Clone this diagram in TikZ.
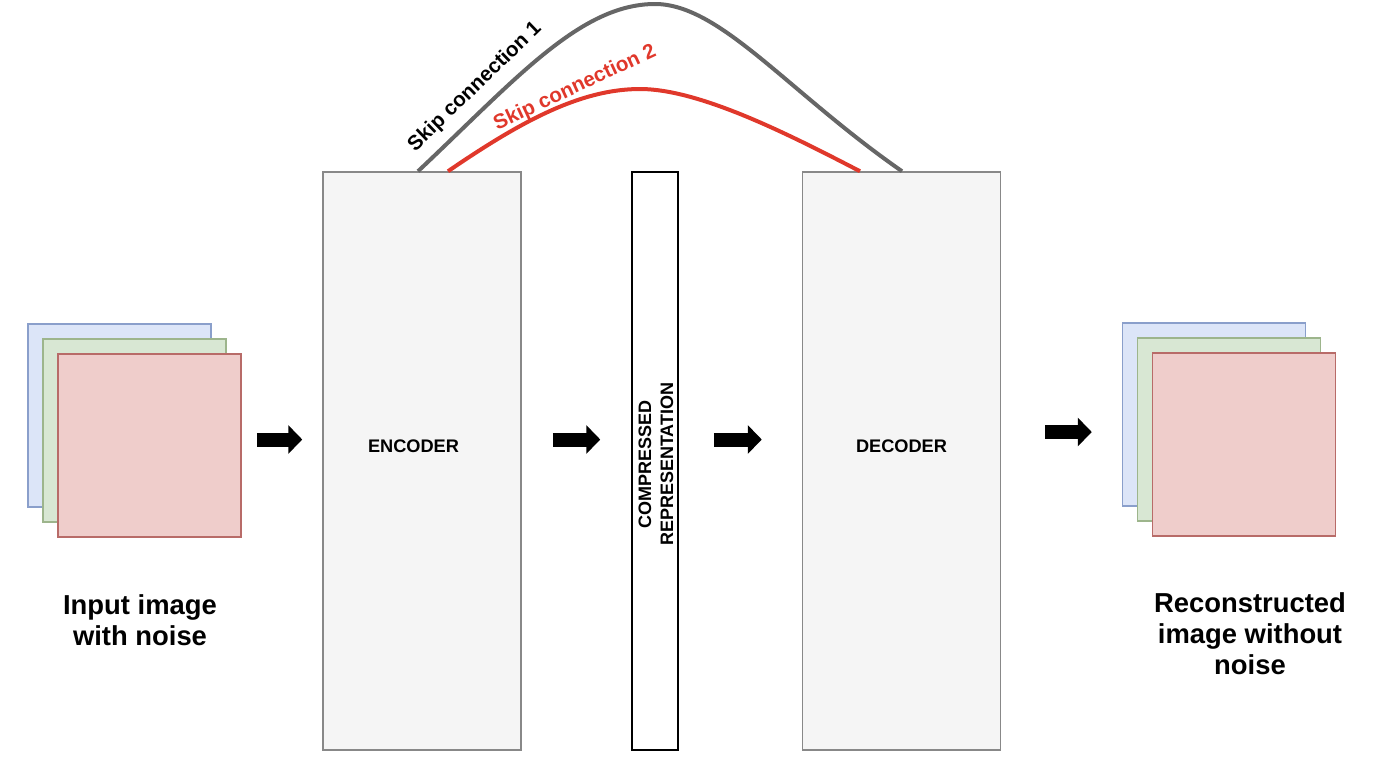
\documentclass[tikz,border=0pt]{standalone}
\usepackage{fontspec}
\setmainfont{Liberation Sans}
\usetikzlibrary{arrows.meta}

\definecolor{imgblue}{HTML}{DCE5F8}
\definecolor{lineblue}{HTML}{8A9FCB}
\definecolor{imggreen}{HTML}{D8E7D3}
\definecolor{linegreen}{HTML}{9DB58C}
\definecolor{imgred}{HTML}{EFCDCB}
\definecolor{linered}{HTML}{B86B68}
\definecolor{boxfill}{HTML}{F5F5F5}
\definecolor{boxline}{HTML}{888888}
\definecolor{skipgrey}{HTML}{666666}
\definecolor{skipred}{HTML}{E0382B}

\tikzset{
  img/.style={draw, line width=0.75pt, minimum size=91.5pt, inner sep=0pt},
  block/.style={draw=boxline, fill=boxfill, line width=0.75pt, minimum width=99pt, minimum height=289pt, inner sep=0pt},
  blocklabel/.style={font=\fontsize{9.1}{11}\selectfont\bfseries, align=center},
  blockarrow/.style={line width=7pt, -{Triangle[width=14pt,length=7pt]}},
  skip/.style={line width=2pt},
  skiplabel/.style={font=\fontsize{10.3}{12}\selectfont\bfseries, inner sep=1pt},
  caption/.style={align=center, font=\fontsize{13.7}{15.5}\selectfont\bfseries}
}

\begin{document}
\begin{tikzpicture}[x=0.5pt, y=-0.5pt]
  \useasboundingbox (0,0) rectangle (1400,762);
  % stacked images
  \foreach \c/\d in {blue/0, green/15, red/30} {
    \node[img, fill=img\c, draw=line\c] (in\c) at (119.5+\d, 415.5+\d) {};
    \node[img, fill=img\c, draw=line\c] (out\c) at (1214+\d, 414.5+\d) {};
  }
  \node[caption] (incap) at (140,620) {Input image\\with noise};
  \node[caption] (outcap) at (1250,634) {Reconstructed\\image without\\noise};

  % blocks
  \node[block] (enc) at (422,461) {};
  \node[blocklabel] (enclabel) at (413.5,446.5) {ENCODER};
  \node[block, minimum width=23pt, draw=black, fill=white] (comp) at (655,461) {};
  \node[blocklabel, rotate=90, font=\fontsize{9}{11}\selectfont\bfseries] (complabel) at (656,464) {COMPRESSED\\REPRESENTATION};
  \node[block] (dec) at (901.5,461) {};
  \node[blocklabel] (declabel) at (901.5,446.5) {DECODER};

  % arrows
  \draw[blockarrow] ([xshift=7.5pt, yshift=3pt]inred.east) -- ([xshift=-10pt, yshift=10.75pt]enc.west);
  \draw[blockarrow] ([xshift=15.5pt, yshift=10.75pt]enc.east) -- ([xshift=-15.5pt, yshift=10.75pt]comp.west);
  \draw[blockarrow] ([xshift=17.5pt, yshift=10.75pt]comp.east) -- ([xshift=-20pt, yshift=10.75pt]dec.west);
  \draw[blockarrow] ([xshift=22pt, yshift=14.5pt]dec.east) -- ([xshift=-15pt, yshift=-8.75pt]outblue.west);

  % skip connections
  \coordinate (top1) at (655,4);
  \coordinate (top2) at (640,89);
  \draw[skip, skipgrey] ([xshift=-2pt]enc.north) .. controls (515,80) and (580,4) .. (top1)
    .. controls (720,4) and (788,92) .. ([xshift=0.25pt]dec.north);
  \draw[skip, skipred] ([xshift=13pt]enc.north) .. controls (520,122) and (580,89) .. (top2)
    .. controls (700,89) and (790,135) .. ([xshift=-20.75pt]dec.north);
  \node[skiplabel, rotate=44] (skip1) at (475,87) {Skip connection 1};
  \node[skiplabel, rotate=25, text=skipred] (skip2) at (575,88) {Skip connection 2};
\end{tikzpicture}
\end{document}
